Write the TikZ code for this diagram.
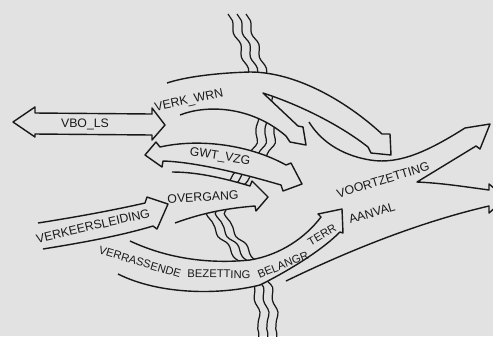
\documentclass[tikz,border=0pt]{standalone}
\usepackage{fontspec}
\setsansfont{Liberation Sans}
\usetikzlibrary{decorations.pathmorphing}
\definecolor{paper}{gray}{0.885}
\definecolor{ink}{gray}{0.1}
\tikzset{
  band/.style={draw=ink, fill=paper, line width=0.8pt, line join=round},
  lbl/.style={font=\sffamily\fontsize{7}{8}\selectfont, text=ink, inner sep=0pt},
  lblsmall/.style={lbl, font=\sffamily\fontsize{6.4}{8}\selectfont},
  river/.style={draw=ink, line width=0.7pt, decorate,
                decoration={snake, amplitude=0.35mm, segment length=5mm}}
}

\begin{document}
\begin{tikzpicture}[x=0.02cm, y=-0.02cm]
  \fill[paper] (0,0) rectangle (493,336);
  \useasboundingbox (0,0) rectangle (493,336);
  \clip (0,0) rectangle (493,336);

  %% -- river, partly hidden by the arrows --
  \foreach \dx in {-9,0,9}
    \draw[river, shift={(\dx,0)}] (237,14)
      .. controls (247,40) and (262,85) .. (264,115)
      .. controls (266,135) and (258,155) .. (240,170)
      .. controls (225,183) and (208,200) .. (218,218)
      .. controls (228,235) and (255,260) .. (262,290)
      .. controls (266,310) and (268,330) .. (268,345);

  %% -- VOORTZETTING / AANVAL --
  \path[band] (286,281) .. controls (350,250) and (420,222) .. (489,206)
    -- (489,213) -- (506,198) -- (489,184) -- (489,190)
    .. controls (460,186) and (440,183) .. (417,182)
    -- (476,146) -- (480,149) -- (490,124) -- (465,128)
    .. controls (430,150) and (400,165) .. (370,160)
    .. controls (340,155) and (320,140) .. (309,122);

  %% -- VERK_WRN, forked --
  \path[band] (180,115) .. controls (205,105) and (250,105) .. (286,136)
    -- (290,142) -- (306,145) -- (303,127) -- (298,126) -- (263,93)
    .. controls (300,105) and (340,125) .. (368,147)
    -- (371,153) -- (391,155) -- (390,134) -- (382,134)
    .. controls (345,100) and (295,72) .. (250,72)
    .. controls (215,73) and (185,77) .. (167,83);

  %% -- GWT_VZG --
  \path[band] (145,155) -- (156,142) -- (160,147)
    .. controls (200,138) and (250,145) .. (286,165)
    -- (291,163) -- (302,184) -- (283,191) -- (281,185)
    .. controls (240,173) and (195,162) .. (163,161)
    -- (162,167) -- cycle;

  %% -- OVERGANG --
  \path[band] (175,223) .. controls (205,212) and (230,208) .. (255,206)
    -- (256,211) -- (268,197) -- (252,181) -- (250,186)
    .. controls (220,177) and (195,172) .. (172,172);

  %% -- VERKEERSLEIDING --
  \path[band] (43,249) .. controls (80,243) and (120,236) .. (153,226)
    -- (157,229) -- (168,204) -- (147,197) -- (145,203)
    .. controls (110,211) and (70,218) .. (38,223);

  %% -- VERRASSENDE BEZETTING --
  \path[band] (118,274) .. controls (160,295) and (220,295) .. (260,285)
    .. controls (290,270) and (322,250) .. (340,232)
    -- (343,233) -- (342,209) -- (318,214) -- (321,217)
    .. controls (305,238) and (280,255) .. (250,260)
    .. controls (200,265) and (160,255) .. (130,241);

  %% -- VBO_LS --
  \path[band] (13,122) -- (35,107) -- (35,113) -- (152,114) -- (152,108)
    -- (165,125) -- (152,140) -- (152,135) -- (35,134) -- (35,137) -- cycle;

  %% -- labels --
  \node[lbl] (vbo) at (85,124) {VBO\_LS};
  \node[lbl, rotate=12] (wrn) at (189,101) {VERK\_WRN};
  \node[lbl, rotate=-9] (gwt) at (220,157) {GWT\_VZG};
  \node[lbl, rotate=3] (overgang) at (203,197) {OVERGANG};
  \node[lbl, rotate=13] (leiding) at (93,226) {VERKEERSLEIDING};
  \node[lbl, rotate=17] (voort) at (383,180) {VOORTZETTING};
  \node[lbl, rotate=16] (aanval) at (372,213) {AANVAL};
  \node[lblsmall, rotate=-17] (verr)    at (140,262) {VERRASSENDE};
  \node[lblsmall, rotate=-1]  (bez)     at (219,274) {BEZETTING};
  \node[lblsmall, rotate=22]  (belangr) at (283,265) {BELANGR};
  \node[lblsmall, rotate=30]  (terr)    at (322,235) {TERR};
\end{tikzpicture}
\end{document}
